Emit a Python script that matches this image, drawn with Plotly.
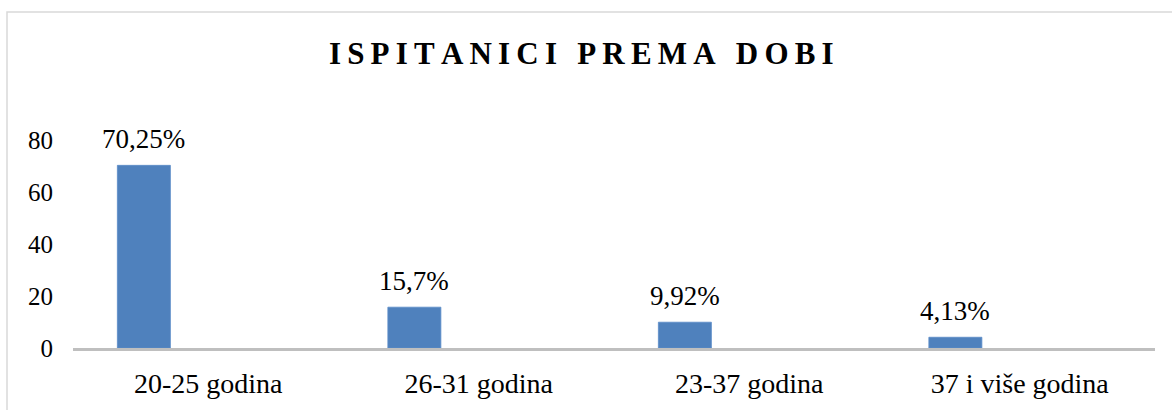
import plotly.graph_objects as go

categories = ["20-25 godina", "26-31 godina", "23-37 godina", "37 i više godina"]
values = [70.25, 15.7, 9.92, 4.13]
value_labels = ["70,25%", "15,7%", "9,92%", "4,13%"]
y_ticks = [0, 20, 40, 60, 80]
title_text = "ISPITANICI PREMA DOBI"

SERIF = "Liberation Serif"
BAR_WIDTH = 0.196
BAR_OFFSET = -0.336

fig = go.Figure()
fig.add_trace(go.Bar(
    x=categories,
    y=values,
    width=BAR_WIDTH,
    offset=BAR_OFFSET,
    marker=dict(color="#4F81BD", line=dict(color="#5B8CC8", width=0.8)),
    hoverinfo="x+y",
))

for i, (v, lab) in enumerate(zip(values, value_labels)):
    fig.add_annotation(
        x=i + BAR_OFFSET + BAR_WIDTH / 2, y=v, xref="x", yref="y",
        text=lab, showarrow=False, yanchor="bottom", yshift=9,
        font=dict(family=SERIF, size=27, color="#000000"),
    )

spaced_title = "\u2009".join(title_text)

fig.update_layout(
    width=1172, height=410,
    margin=dict(l=73, r=17, t=140, b=62),
    paper_bgcolor="#FFFFFF", plot_bgcolor="#FFFFFF",
    showlegend=False,
    title=dict(
        text=spaced_title, xref="container", yref="container",
        x=0.496, y=1 - 53 / 410, xanchor="center", yanchor="middle",
        font=dict(family=SERIF, size=31, color="#000000", weight="bold"),
    ),
    xaxis=dict(
        type="category", range=[-0.5, 3.5], automargin=False,
        showline=True, linecolor="#BFBFBF", linewidth=3,
        showgrid=False, zeroline=False, ticks="",
        ticklabelstandoff=8,
        tickfont=dict(family=SERIF, size=28, color="#000000"),
    ),
    yaxis=dict(
        range=[0, 80], tickvals=y_ticks, automargin=False,
        showline=False, showgrid=False, zeroline=False, ticks="",
        ticklabelstandoff=19,
        tickfont=dict(family=SERIF, size=25, color="#000000"),
    ),
    shapes=[dict(
        type="rect", xref="paper", yref="paper",
        x0=(7 - 73) / 1082, x1=(1180 - 73) / 1082,
        y0=(348 - 420) / 208, y1=(348 - 12) / 208,
        line=dict(color="#D9D9D9", width=1.5), fillcolor="rgba(0,0,0,0)",
        layer="below",
    )],
)

fig.write_html("out.html", config={"displayModeBar": False},
               post_script="document.body.style.margin='0';")
